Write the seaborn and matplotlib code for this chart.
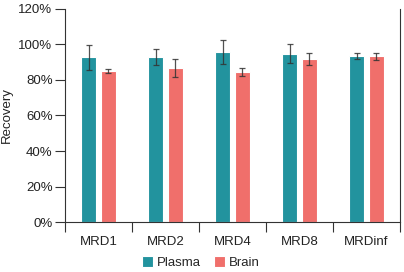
import pandas as pd
import numpy as np
import matplotlib
matplotlib.use('Agg')
import matplotlib.pyplot as plt
import seaborn as sns
from matplotlib.ticker import FixedLocator, PercentFormatter

sns.set_style('white')
plt.rcParams['font.family'] = ['Liberation Sans', 'DejaVu Sans']

# 데이터
groups = ['MRD1', 'MRD2', 'MRD4', 'MRD8', 'MRDinf']
plasma = [92.7, 92.7, 95.5, 94.6, 93.4]
plasma_err = [7.0, 4.6, 6.7, 5.3, 1.8]
brain = [85.0, 86.7, 84.3, 91.7, 93.3]
brain_err = [1.2, 5.0, 2.2, 3.3, 2.0]

df = pd.DataFrame({
    'group': groups * 2,
    'matrix': ['Plasma'] * len(groups) + ['Brain'] * len(groups),
    'recovery': plasma + brain,
    'err': plasma_err + brain_err,
})

colors = {'Plasma': '#22939E', 'Brain': '#F06F6B'}

fig = plt.figure(figsize=(4.04, 2.72), dpi=100)
ax = fig.add_axes([0.161, 0.183, 0.829, 0.785])

sns.barplot(data=df, x='group', y='recovery', hue='matrix', palette=colors,
            width=0.58, gap=0.24, errorbar=None, saturation=1, ax=ax,
            edgecolor='#ffffff', linewidth=0.8)

# 에러바
for container, name in zip(ax.containers, ['Plasma', 'Brain']):
    sub = df[df['matrix'] == name]
    xs = [p.get_x() + p.get_width() / 2 for p in container]
    ax.errorbar(xs, sub['recovery'], yerr=sub['err'], fmt='none',
                ecolor='#333333', elinewidth=0.9, capsize=2.2, capthick=0.9, alpha=0.85)

ax.set_ylim(0, 120)
ax.set_xlim(-0.5, len(groups) - 0.5)
ax.yaxis.set_major_locator(FixedLocator(np.arange(0, 121, 20)))
ax.yaxis.set_major_formatter(PercentFormatter(decimals=0))

ax.xaxis.set_major_locator(FixedLocator(np.arange(-0.5, len(groups), 1)))
ax.xaxis.set_major_formatter(plt.NullFormatter())
ax.xaxis.set_minor_locator(FixedLocator(np.arange(len(groups))))
ax.set_xticklabels(groups, minor=True)
ax.tick_params(axis='x', which='major', length=7, width=0.8, color='#333333', direction='out', bottom=True)
ax.tick_params(axis='x', which='minor', length=0, pad=10, labelsize=9.5, labelcolor='#222222')
ax.tick_params(axis='y', length=7, width=0.8, color='#333333', direction='out', left=True,
               labelsize=9.5, labelcolor='#222222', pad=2)

for side in ['left', 'right', 'bottom']:
    ax.spines[side].set_color('#333333')
    ax.spines[side].set_linewidth(0.8)
ax.spines['top'].set_visible(False)

ax.set_xlabel('')
ax.set_ylabel('Recovery', fontsize=9.5, color='#222222', labelpad=4)

handles, labels = ax.get_legend_handles_labels()
ax.legend(handles, labels, loc='center', bbox_to_anchor=(0.406, -0.19), ncol=2,
          frameon=False, fontsize=9.5, handlelength=0.8, handleheight=0.8,
          handletextpad=0.3, columnspacing=1.0, borderpad=0)

fig.savefig('out.png', dpi=100)
